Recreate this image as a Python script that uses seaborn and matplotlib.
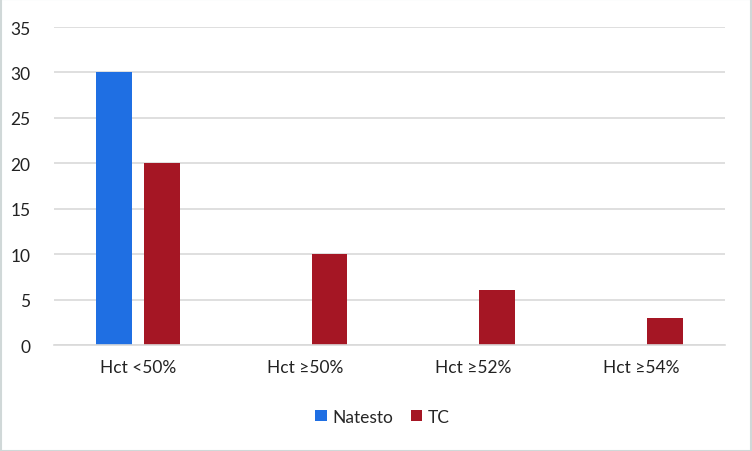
import matplotlib
matplotlib.use("Agg")
import matplotlib.pyplot as plt
import seaborn as sns
import pandas as pd

categories = ["Hct <50%", "Hct \u226550%", "Hct \u226552%", "Hct \u226554%"]
natesto = [30, 0, 0, 0]
tc = [20, 10, 6, 3]
series_names = ["Natesto", "TC"]

df = pd.DataFrame({
    "cat": categories * 2,
    "val": natesto + tc,
    "series": [series_names[0]] * 4 + [series_names[1]] * 4,
})

sns.set_theme(style="white")
plt.rcParams['font.family'] = ['Lato', 'DejaVu Sans']

fig = plt.figure(figsize=(7.52, 4.52), dpi=100)
fig.patch.set_facecolor("white")
ax = fig.add_axes([0.0718, 0.2345, 0.8922, 0.7035])

sns.barplot(data=df, x="cat", y="val", hue="series",
            palette={"Natesto": "#1f6fe3", "TC": "#a51624"},
            width=0.571, gap=0.25, ax=ax, saturation=1, legend=True,
            linewidth=0, edgecolor="none")

ax.set_ylim(0, 35)
ax.set_xlim(-0.5, 3.5)
ax.set_yticks(range(0, 36, 5))
ax.yaxis.grid(True, color="#d9d9d9", linewidth=1.2)
ax.set_axisbelow(True)
for s in ["top", "right", "left"]:
    ax.spines[s].set_visible(False)
ax.spines["bottom"].set_color("#d9d9d9")
ax.spines["bottom"].set_linewidth(1.2)
ax.set_xlabel("")
ax.set_ylabel("")
ax.tick_params(axis="both", length=0, labelsize=12.5, colors="#222222")
ax.tick_params(axis="y", pad=17)
ax.tick_params(axis="x", pad=10)

leg = ax.legend(loc="center", bbox_to_anchor=(0.49, -0.225), ncol=2, frameon=False,
                fontsize=12.5, handlelength=0.65, handleheight=0.65, handletextpad=0.35,
                columnspacing=1.0)

fig.add_artist(plt.Rectangle((0.001, 0.001), 0.998, 0.998, transform=fig.transFigure,
                             fill=False, edgecolor="#d0d8d8", linewidth=1.5))

fig.savefig("out.png", dpi=100)
